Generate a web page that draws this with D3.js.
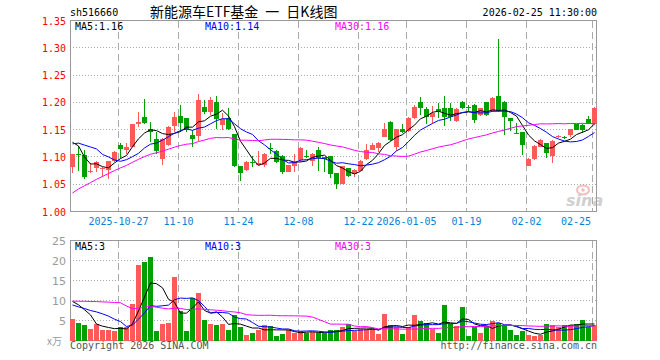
<!DOCTYPE html>
<html><head><meta charset="utf-8">
<script src="https://cdn.jsdelivr.net/npm/d3@7/dist/d3.min.js"></script>
<style>body{margin:0;background:#fff}svg{display:block}text{font-family:"DejaVu Sans Mono",monospace}</style>
</head><body><svg id="c" width="660" height="360"></svg>
<script>
// ---------- data ----------
const dates = [
"2025-10-15","2025-10-16","2025-10-17","2025-10-20","2025-10-21","2025-10-22","2025-10-23","2025-10-24","2025-10-27","2025-10-28","2025-10-29","2025-10-30","2025-10-31",
"2025-11-03","2025-11-04","2025-11-05","2025-11-06","2025-11-07","2025-11-10","2025-11-11","2025-11-12","2025-11-13","2025-11-14","2025-11-17","2025-11-18","2025-11-19","2025-11-20","2025-11-21","2025-11-24","2025-11-25","2025-11-26","2025-11-27","2025-11-28",
"2025-12-01","2025-12-02","2025-12-03","2025-12-04","2025-12-05","2025-12-08","2025-12-09","2025-12-10","2025-12-11","2025-12-12","2025-12-15","2025-12-16","2025-12-17","2025-12-18","2025-12-19","2025-12-22","2025-12-23","2025-12-24","2025-12-25","2025-12-26","2025-12-29","2025-12-30","2025-12-31",
"2026-01-05","2026-01-06","2026-01-07","2026-01-08","2026-01-09","2026-01-12","2026-01-13","2026-01-14","2026-01-15","2026-01-16","2026-01-19","2026-01-20","2026-01-21","2026-01-22","2026-01-23","2026-01-26","2026-01-27","2026-01-28","2026-01-29","2026-01-30",
"2026-02-02","2026-02-03","2026-02-04","2026-02-05","2026-02-06","2026-02-09","2026-02-10","2026-02-11","2026-02-12","2026-02-13","2026-02-24","2026-02-25"];
const open = [1.081,1.106,1.104,1.072,1.079,1.078,1.076,1.092,1.122,1.112,
1.119,1.161,1.174,1.151,1.133,1.096,1.122,1.156,1.175,1.171,
1.140,1.139,1.192,1.182,1.201,1.159,1.171,1.142,1.084,1.076,
1.090,1.086,1.085,1.116,1.111,1.101,1.073,1.084,1.095,1.102,
1.092,1.113,1.099,1.101,1.070,1.051,1.079,1.069,1.075,1.096,
1.113,1.117,1.137,1.164,1.119,1.151,1.147,1.171,1.200,1.188,
1.174,1.188,1.189,1.190,1.165,1.201,1.191,1.195,1.176,1.200,
1.184,1.211,1.201,1.171,1.144,1.145,1.084,1.096,1.119,1.125,
1.101,1.138,1.137,1.140,1.160,1.159,1.169,1.160];
const close = [1.105,1.103,1.064,1.075,1.090,1.079,1.092,1.109,1.115,1.118,
1.160,1.164,1.162,1.145,1.110,1.133,1.155,1.173,1.162,1.150,
1.133,1.204,1.182,1.204,1.169,1.169,1.151,1.084,1.071,1.090,
1.088,1.089,1.106,1.114,1.090,1.073,1.085,1.090,1.116,1.099,
1.106,1.098,1.097,1.069,1.051,1.083,1.065,1.076,1.093,1.113,
1.122,1.126,1.151,1.131,1.151,1.145,1.172,1.192,1.190,1.174,
1.181,1.182,1.173,1.173,1.188,1.189,1.190,1.168,1.189,1.176,
1.208,1.184,1.174,1.165,1.143,1.122,1.097,1.120,1.131,1.108,
1.129,1.139,1.136,1.151,1.150,1.150,1.162,1.190];
const high = [1.106,1.120,1.112,1.088,1.092,1.082,1.093,1.110,1.126,1.126,
1.161,1.183,1.206,1.164,1.146,1.135,1.156,1.183,1.195,1.172,
1.150,1.215,1.204,1.209,1.212,1.180,1.190,1.142,1.084,1.092,
1.101,1.110,1.107,1.125,1.112,1.104,1.086,1.106,1.118,1.113,
1.107,1.119,1.100,1.102,1.071,1.084,1.080,1.077,1.094,1.123,
1.126,1.127,1.162,1.165,1.152,1.160,1.173,1.195,1.209,1.192,
1.194,1.198,1.212,1.199,1.190,1.203,1.196,1.197,1.190,1.201,
1.210,1.316,1.202,1.172,1.163,1.146,1.098,1.121,1.133,1.126,
1.131,1.141,1.138,1.152,1.161,1.160,1.175,1.191];
const low = [1.070,1.075,1.059,1.071,1.073,1.064,1.059,1.090,1.098,1.105,
1.118,1.155,1.161,1.127,1.106,1.085,1.120,1.146,1.146,1.146,
1.119,1.130,1.178,1.176,1.151,1.150,1.149,1.081,1.055,1.074,
1.081,1.085,1.081,1.105,1.089,1.069,1.072,1.073,1.090,1.098,
1.084,1.075,1.073,1.061,1.041,1.050,1.064,1.063,1.074,1.095,
1.112,1.109,1.136,1.130,1.110,1.144,1.146,1.170,1.176,1.160,
1.163,1.171,1.156,1.165,1.164,1.188,1.185,1.162,1.175,1.175,
1.183,1.183,1.140,1.148,1.142,1.104,1.083,1.095,1.118,1.098,
1.089,1.134,1.132,1.137,1.149,1.144,1.161,1.159];
const volume = [5.4,4.3,3.9,2.9,4.1,2.7,2.7,2.4,3.3,3.3,
9.2,18.8,19.7,20.9,2.4,4.1,4.4,15.9,7.4,2.4,
10.6,11.9,5.2,4.2,3.9,4.1,2.7,6.3,3.4,1.4,
1.8,2.7,3.9,3.7,1.2,1.7,2.7,1.8,2.3,1.9,
2.2,1.8,2.0,2.7,2.7,3.3,4.1,2.4,2.9,2.9,
2.9,1.7,6.7,3.9,3.5,1.7,3.5,6.4,5.0,4.3,
2.9,1.9,8.9,4.1,3.7,8.4,1.2,3.3,1.9,3.7,
5.0,4.3,3.9,2.7,1.4,2.4,1.4,1.2,1.4,4.1,
3.9,3.5,3.9,3.9,4.1,5.2,3.5,3.9];
// sessions before the visible window (only feed the moving averages)
const priorClose = [0.880,0.890,0.900,0.910,0.920,0.930,0.950,0.967,
0.980,0.990,1.000,1.010,1.020,1.030,1.040,1.050,1.060,1.070,1.080,1.100,
1.090,1.100,1.110,1.125,1.180,1.138,1.164,1.140,1.088];
const priorVolume = [5,4,4.5,5,5,4.5,5,5.3,
28,29,15,13,12,11,11,10,11,9,10,9,
9,8,8,7.5,7.5,8.5,10,9.4,15.5];
const priceTicks = [1.00,1.05,1.10,1.15,1.20,1.25,1.30,1.35];
const volTicks = [5,10,15,20,25];
const tickDates = ["2025-10-27","2025-11-10","2025-11-24","2025-12-08","2025-12-22","2026-01-05","2026-01-19","2026-02-02","2026-02-25"];
const tickLabels = ["2025-10-27","11-10","11-24","12-08","12-22","2026-01-05","01-19","02-02","02-25"];
const maPeriods = [5,10,30];
const volLegendValues = ["3","3","3"];

// ---------- setup ----------
const svg = d3.select("#c");
const L = 70, R = 597;
const RED = "#ff5959", GREEN = "#00a000", GRID = "#aaa";
const maColors = ["#000000","#0000ff","#ff00ff"];
const n = dates.length;
const x = d3.scaleBand().domain(d3.range(n)).range([L, 598]).padding(0);
const yP = d3.scaleLinear().domain([1.00,1.35]).range([211.5,20.5]);
const yV = d3.scaleLinear().domain([0,25]).range([340.5,240.5]);
const up = i => close[i] >= open[i];
const cx = i => x(i) + 2.5;

function movingAvg(prior, vals, p){
  const all = prior.concat(vals), off = prior.length;
  return vals.map((_, i) => d3.mean(all.slice(off + i - p + 1, off + i + 1)));
}
const priceMA = maPeriods.map(p => movingAvg(priorClose, close, p));
const volMA = maPeriods.map(p => movingAvg(priorVolume, volume, p));

const tickIdx = tickDates.map(d => dates.indexOf(d));

function panel(y, ticks, top, bottom){
  const g = svg.append("g").attr("shape-rendering","crispEdges");
  g.selectAll("line.h").data(ticks.filter(t => Math.round(y(t)) > top + 1 && Math.round(y(t)) < bottom - 1)).join("line")
    .attr("x1",L).attr("x2",R).attr("y1",t=>Math.round(y(t)-0.5)+0.5).attr("y2",t=>Math.round(y(t)-0.5)+0.5)
    .attr("stroke",GRID).attr("stroke-dasharray","1,2");
  g.selectAll("line.v").data(tickIdx).join("line")
    .attr("x1",i=>x(i)+0.5).attr("x2",i=>x(i)+0.5).attr("y1",top).attr("y2",bottom)
    .attr("stroke",GRID).attr("stroke-dasharray","7,4");
  g.append("rect").attr("x",L+0.5).attr("y",top).attr("width",R-L-1).attr("height",bottom-top)
    .attr("fill","none").attr("stroke","#999");
}
panel(yP, priceTicks, 20.5, 211.5);
panel(yV, [0].concat(volTicks), 240.5, 340.5);

// candles
const cg = svg.append("g").attr("shape-rendering","crispEdges");
const idx = d3.range(n);
cg.selectAll("rect.w").data(idx).join("rect")
  .attr("x",i=>x(i)+2).attr("width",1)
  .attr("y",i=>Math.round(yP(high[i])))
  .attr("height",i=>Math.max(1,Math.round(yP(low[i]))-Math.round(yP(high[i]))))
  .attr("fill",i=>up(i)?RED:GREEN);
cg.selectAll("rect.b").data(idx).join("rect")
  .attr("x",i=>x(i)).attr("width",x.bandwidth()-1)
  .attr("y",i=>Math.round(yP(Math.max(open[i],close[i]))))
  .attr("height",i=>Math.max(1,Math.round(yP(Math.min(open[i],close[i])))-Math.round(yP(Math.max(open[i],close[i])))))
  .attr("fill",i=>up(i)?RED:GREEN);

// volume bars
cg.selectAll("rect.v").data(idx).join("rect")
  .attr("x",i=>x(i)).attr("width",x.bandwidth()-1)
  .attr("y",i=>Math.round(yV(volume[i])))
  .attr("height",i=>Math.round(yV(0))-Math.round(yV(volume[i])))
  .attr("fill",i=>up(i)?RED:GREEN);

// MA lines
const lg = svg.append("g");
priceMA.forEach((m,k)=>{
  lg.append("path").datum(m).attr("fill","none").attr("stroke",maColors[k]).attr("stroke-width",1)
    .attr("d", d3.line().x((d,i)=>cx(i)).y(d=>yP(d)));
});
volMA.forEach((m,k)=>{
  lg.append("path").datum(m).attr("fill","none").attr("stroke",maColors[k]).attr("stroke-width",1)
    .attr("d", d3.line().x((d,i)=>cx(i)).y(d=>yV(d)));
});

// axes labels
const ax = svg.append("g");
ax.selectAll("text.p").data(priceTicks).join("text")
  .attr("x",66).attr("y",d=>yP(d)+4).attr("text-anchor","end")
  .attr("font-size",10).attr("fill","#ff0000").text(d=>d.toFixed(2));
ax.selectAll("text.vv").data(volTicks).join("text")
  .attr("x",66).attr("y",d=>yV(d)+4).attr("text-anchor","end")
  .attr("font-size",11).attr("fill","#9a9a9a").style("font-family","'DejaVu Sans',sans-serif").text(d=>d);
ax.append("text").attr("x",47).attr("y",345).attr("font-size",10).attr("fill","#9a9a9a")
  .style("font-family","'Noto Sans CJK SC',sans-serif").text("x万");
ax.selectAll("text.d").data(tickIdx).join("text")
  .attr("x",(i,k)=> k===tickIdx.length-1 ? 591 : x(i)+0.5)
  .attr("y",224.5)
  .attr("text-anchor",(i,k)=> k===tickIdx.length-1 ? "end" : "middle")
  .attr("font-size",10).attr("fill","#0a7fd6").text((i,k)=>tickLabels[k]);

// header
svg.append("text").attr("x",70).attr("y",16).attr("font-size",10).attr("fill","#000").text("sh516660");
svg.append("text").attr("x",150).attr("y",17).attr("font-size",14).attr("fill","#000")
  .style("font-family","'Noto Sans CJK SC',sans-serif").style("white-space","pre")
  .text("新能源车ETF基金\u2002一\u2002日K线图");
svg.append("text").attr("x",597).attr("y",16).attr("text-anchor","end").attr("font-size",10).attr("fill","#000").text("2026-02-25 11:30:00");

// legends
const legX = [75,205,335];
maPeriods.forEach((p,k)=>{
  svg.append("text").attr("x",legX[k]).attr("y",30).attr("font-size",10).attr("fill",maColors[k])
    .text("MA"+p+":"+priceMA[k][n-1].toFixed(2));
  svg.append("text").attr("x",legX[k]).attr("y",250).attr("font-size",10).attr("fill",maColors[k])
    .text("MA"+p+":"+volLegendValues[k]);
});

// footer
svg.append("text").attr("x",70).attr("y",349).attr("font-size",10).attr("fill","#555").text("Copyright 2026 SINA.COM");
svg.append("text").attr("x",597).attr("y",349).attr("text-anchor","end").attr("font-size",10).attr("fill","#555").text("http://finance.sina.com.cn");

// watermark
const wm = svg.append("g").attr("opacity",0.55);
wm.append("ellipse").attr("cx",583).attr("cy",190).attr("rx",6).attr("ry",4.5).attr("fill","none").attr("stroke","#e88").attr("stroke-width",2);
wm.append("circle").attr("cx",583).attr("cy",190).attr("r",1.8).attr("fill","#e88");
wm.append("text").attr("x",566).attr("y",206).attr("font-size",16).attr("font-style","italic").attr("font-weight","bold")
  .style("font-family","'DejaVu Sans',sans-serif").attr("fill","#aaa").text("sina");
</script></body></html>
